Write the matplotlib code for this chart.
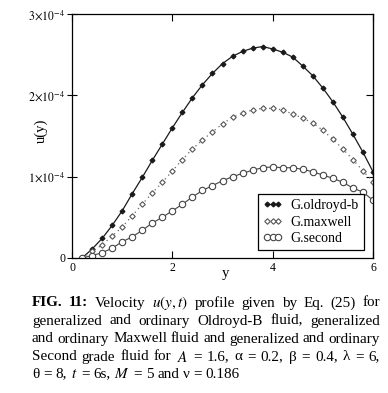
import numpy as np
import matplotlib
matplotlib.use('Agg')
import matplotlib.pyplot as plt

plt.rcParams['font.family'] = ['Liberation Serif', 'DejaVu Serif']
plt.rcParams['mathtext.fontset'] = 'stix'

# data (u in units of 1e-4)
y_pos = [0.2, 0.4, 0.6, 0.8, 1.0, 1.2, 1.4, 1.6, 1.8, 2.0,
         2.2, 2.4, 2.6, 2.8, 3.0, 3.2, 3.4, 3.6, 3.8, 4.0,
         4.2, 4.4, 4.6, 4.8, 5.0, 5.2, 5.4, 5.6, 5.8, 6.0]
u_oldroyd = [0.00, 0.11, 0.24, 0.40, 0.58, 0.79, 0.99, 1.20, 1.40, 1.60,
             1.79, 1.97, 2.13, 2.27, 2.39, 2.48, 2.54, 2.58, 2.60, 2.57,
             2.53, 2.47, 2.36, 2.24, 2.09, 1.92, 1.73, 1.52, 1.30, 1.06]
u_maxwell = [0.00, 0.08, 0.16, 0.27, 0.38, 0.52, 0.66, 0.80, 0.93, 1.07,
             1.21, 1.34, 1.45, 1.55, 1.65, 1.73, 1.78, 1.82, 1.84, 1.84,
             1.82, 1.77, 1.72, 1.66, 1.57, 1.46, 1.34, 1.21, 1.07, 0.94]
u_second = [0.00, 0.03, 0.065, 0.12, 0.20, 0.26, 0.34, 0.43, 0.50, 0.58,
            0.66, 0.75, 0.83, 0.89, 0.95, 1.00, 1.04, 1.08, 1.11, 1.12,
            1.11, 1.11, 1.09, 1.06, 1.02, 0.98, 0.93, 0.86, 0.81, 0.71]

xticks = [0, 2, 4, 6]
yticks = [0, 1e-4, 2e-4, 3e-4]
ytick_labels = ['0', r'$1\!\times\!10^{-4}$', r'$2\!\times\!10^{-4}$', r'$3\!\times\!10^{-4}$']
legend_names = ['G.oldroyd-b', 'G.maxwell', 'G.second']

caption = [
    ['FIG.', '11:', 'Velocity', '$u(y,t)$', 'profile', 'given', 'by', 'Eq.', '(25)', 'for'],
    ['generalized', 'and', 'ordinary', 'Oldroyd-B', 'fluid,', 'generalized'],
    ['and', 'ordinary', 'Maxwell', 'fluid', 'and', 'generalized', 'and', 'ordinary'],
    ['Second', 'grade', 'fluid', 'for', '$A$', '=', '1.6,', 'α', '=', '0.2,', 'β', '=', '0.4,',
     'λ', '=', '6,'],
    ['θ', '=', '8,', '$t$', '=', '6s,', '$M$', '=', '5', 'and', 'ν', '=', '0.186'],
]

W, H = 388, 393
fig = plt.figure(figsize=(W / 100, H / 100), dpi=100)
ax = fig.add_axes([72 / W, 1 - 258 / H, 301 / W, 244 / H])

s = 1e-4
ax.plot(y_pos, np.array(u_oldroyd) * s, color='#1a1a1a', lw=0.9, marker='D', ms=2.4,
        mfc='#1a1a1a', mec='#1a1a1a', label=legend_names[0])
ax.plot(y_pos, np.array(u_maxwell) * s, color='#666666', lw=0.9, ls=(0, (1, 3)), marker='D',
        ms=2.8, mfc='white', mec='#555555', mew=0.8, label=legend_names[1])
ax.plot(y_pos, np.array(u_second) * s, color='#444444', lw=0.8, marker='o', ms=4.6,
        mfc='white', mec='#444444', mew=0.8, label=legend_names[2])

ax.set_xlim(0, 6)
ax.set_ylim(0, 3e-4)
ax.set_xticks(xticks)
ax.set_xticklabels(['0', '2', '4', '6'], fontsize=8.5)
ax.set_yticks(yticks)
ax.set_yticklabels(ytick_labels, fontsize=8.5)
ax.tick_params(axis='x', direction='in', top=True, length=5, width=0.8, pad=3)
ax.tick_params(axis='y', direction='inout', length=7, width=0.8, pad=1)
for sp in ax.spines.values():
    sp.set_linewidth(0.9)
ax.set_xlabel('y', fontsize=10.5)
ax.set_ylabel('u(y)', fontsize=10.5)
ax.yaxis.set_label_coords(-0.08, 0.52)
ax.xaxis.set_label_coords(0.51, -0.035)

# right side ticks pointing in
ax2 = ax.secondary_yaxis('right')
ax2.set_yticks(yticks[1:3])
ax2.set_yticklabels([])
ax2.tick_params(direction='in', length=5, width=0.8)

leg = ax.legend(loc='lower right', bbox_to_anchor=(0.970, 0.033), borderaxespad=0,
                fontsize=10, numpoints=3, handlelength=1.4, handletextpad=0.6,
                labelspacing=0.25, borderpad=0.35, fancybox=False, framealpha=1)
leg.get_frame().set_edgecolor('black')
leg.get_frame().set_linewidth(0.9)

# justified caption
fs = 10.9
x0, x1 = 32, 380
line_y = [303, 321, 339, 357, 374]
renderer = fig.canvas.get_renderer()
for i, words in enumerate(caption):
    items = []
    for j, w in enumerate(words):
        bold = (i == 0 and j < 2)
        t = fig.text(0, 0, w, fontsize=fs, fontweight='bold' if bold else 'normal',
                     va='center', ha='left')
        items.append(t)
    widths = [t.get_window_extent(renderer).width for t in items]
    if i < len(caption) - 1:
        gap = (x1 - x0 - sum(widths)) / (len(items) - 1)
    else:
        gap = fs * 100 / 72 * 0.25
    x = x0
    for t, wd in zip(items, widths):
        t.set_position((x / W, 1 - line_y[i] / H))
        x += wd + gap

fig.savefig('out.png', dpi=100)
